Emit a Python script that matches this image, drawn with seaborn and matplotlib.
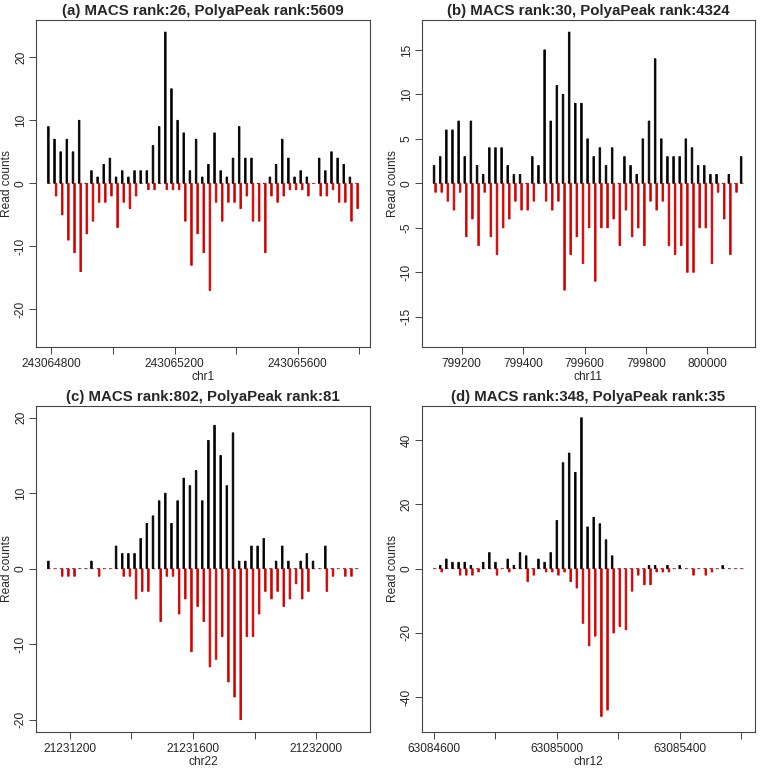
import numpy as np
import pandas as pd
import matplotlib
matplotlib.use("Agg")
import matplotlib.pyplot as plt
import seaborn as sns

# ---------------- data ----------------
titles = ["(a) MACS rank:26, PolyaPeak rank:5609",
          "(b) MACS rank:30, PolyaPeak rank:4324",
          "(c) MACS rank:802, PolyaPeak rank:81",
          "(d) MACS rank:348, PolyaPeak rank:35"]
chroms = ["chr1", "chr11", "chr22", "chr12"]
starts = [243064790, 799110, 21231130, 63084600]
bin_step = 20
strand_offset = 5

a_plus = [9,7,5,7,5,10,0,2,1,3, 4,1,2,1,2,2,2,6,9,24, 15,10,8,2,7,1,3,8,2,1,
          4,9,4,4,0,0,1,3,7,4, 1,2,1,0,4,2,5,4,3,1, 0]
a_minus = [0,-2,-5,-9,-11,-14,-8,-6,-3,-3, -2,-7,-3,-4,-2,0,-1,-1,0,-1,
           -1,-1,-6,-13,-8,-11,-17,-3,-6,-3, -3,-4,-2,-6,-6,-11,-2,-3,-2,-1,
           -1,-1,-2,0,-2,-2,-1,-3,-3,-6, -4]

b_plus = [2,3,6,6,7,3,7,2,1,4, 4,4,2,1,1,0,3,2,15,7, 11,10,17,9,9,5,3,4,2,4,
          0,3,2,1,5,7,14,5,3,3, 3,5,4,2,2,1,1,0,1,0, 3]
b_minus = [-1,-1,-2,-3,-1,-6,-4,-7,-1,-6, -8,-5,-4,-2,-3,-3,-2,0,-2,-3,
           -2,-12,-8,-6,-9,-5,-11,-5,-5,-4, -7,-3,-6,-5,-7,-2,-3,-2,-7,-8,
           -7,-10,-10,-5,-5,-9,-1,-4,-8,-1, 0]

c_plus = [1,0,0,0,0,0,0,1,0,0, 0,3,2,2,2,4,6,7,9,10, 6,9,12,11,13,9,17,19,15,11,
          18,1,1,3,3,4,0,1,3,1, 0,1,2,1,0,3,0,0,0,0, 0]
c_minus = [0,0,-1,-1,-1,0,0,0,-1,0, 0,0,-1,-1,-4,-3,-3,0,-7,-1,
           -1,-6,-4,-11,-5,-7,-13,-12,-9,-15, -17,-20,-9,-9,-6,-3,-4,-3,-5,-4,
           -2,-4,-3,0,0,-3,-1,0,-1,-1, 0]

d_plus = [0,1,3,2,2,2,1,0,2,5, 2,0,3,1,5,4,0,3,2,5, 15,33,36,30,47,13,16,14,9,4,
          0,0,0,0,0,1,1,0,1,0, 1,0,0,0,0,0,0,1,0,0, 0]
d_minus = [0,-1,0,0,-2,-2,-2,-1,0,0, -2,0,-1,0,0,-4,-2,0,-1,-1,
           -2,-1,-4,-6,-17,-24,-21,-46,-44,-20, -18,-19,-7,-2,-5,-5,-1,-1,-1,0,
           0,0,-2,0,-2,-1,0,0,0,0, 0]

plus_series = [a_plus, b_plus, c_plus, d_plus]
minus_series = [a_minus, b_minus, c_minus, d_minus]

x_major = [[243064800, 243065200, 243065600],
           [799200, 799400, 799600, 799800, 800000],
           [21231200, 21231600, 21232000],
           [63084600, 63085000, 63085400]]
x_minor = [[243065000, 243065400, 243065800],
           [],
           [21231400, 21231800],
           [63084800, 63085200, 63085600]]
y_ticks = [[-20, -10, 0, 10, 20],
           [-15, -10, -5, 0, 5, 10, 15],
           [-20, -10, 0, 10, 20],
           [-40, -20, 0, 20, 40]]

# ---------------- style ----------------
sns.set_style("white")
plt.rcParams['font.family'] = ['Liberation Sans', 'DejaVu Sans']

W, H = 760, 769
fig = plt.figure(figsize=(W / 100, H / 100), dpi=100)

boxes = [(36, 370, 20, 346.7), (421.7, 755, 20, 346.7),
         (36, 370, 405.7, 731.7), (421.7, 755, 405.7, 731.7)]

black = "#000000"
red = "#D40000"
frame = "#444444"

for i in range(4):
    l, r, t, b = boxes[i]
    ax = fig.add_axes([l / W, 1 - b / H, (r - l) / W, (b - t) / H])
    n = len(plus_series[i])
    pos = starts[i] + bin_step * np.arange(n)
    df_plus = pd.DataFrame({"pos": pos, "count": plus_series[i]})
    df_minus = pd.DataFrame({"pos": pos + strand_offset, "count": minus_series[i]})
    sns.barplot(data=df_plus, x="pos", y="count", native_scale=True, width=0.26,
                color=black, edgecolor=black, linewidth=0.6, saturation=1,
                errorbar=None, ax=ax)
    sns.barplot(data=df_minus, x="pos", y="count", native_scale=True, width=0.26,
                color=red, edgecolor=red, linewidth=0.6, saturation=1,
                errorbar=None, ax=ax)
    for p in ax.patches:
        p.set_snap(False)

    # R-style 4% axis extension
    x0, x1 = pos[0], pos[-1] + strand_offset
    xr = x1 - x0
    ax.set_xlim(x0 - 0.04 * xr, x1 + 0.04 * xr)
    m = max(max(plus_series[i]), -min(minus_series[i]))
    ax.set_ylim(-m * 1.08, m * 1.08)

    ticks = sorted(x_major[i] + x_minor[i])
    ax.set_xticks(ticks)
    ax.set_xticklabels([str(v) if v in x_major[i] else "" for v in ticks],
                       fontsize=8.6)
    ax.set_yticks(y_ticks[i])
    ax.set_yticklabels([str(v) for v in y_ticks[i]], rotation=90, va="center",
                       fontsize=8.6)
    ax.tick_params(axis="both", direction="out", length=5, width=0.7,
                   color=frame, left=True, bottom=True)
    ax.tick_params(axis="y", pad=1.5)
    ax.tick_params(axis="x", pad=3)
    for s in ax.spines.values():
        s.set_visible(True)
        s.set_color(frame)
        s.set_linewidth(0.8)
    ax.set_xlabel(chroms[i], fontsize=8.6, labelpad=1)
    ax.set_ylabel("Read counts", fontsize=8.6, labelpad=1.5)
    ax.set_title(titles[i], fontsize=10.8, fontweight="bold", pad=3.5)
    ax.set_facecolor("white")

fig.savefig("out.png", dpi=100, facecolor="white")
